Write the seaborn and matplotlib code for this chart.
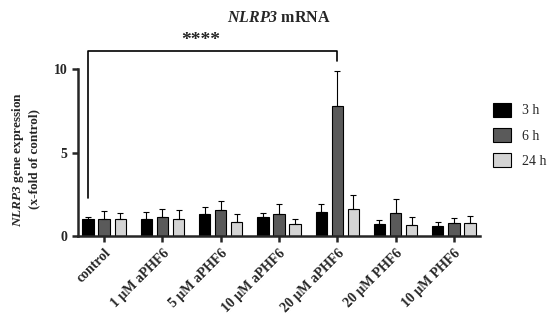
import numpy as np
import pandas as pd
import matplotlib
matplotlib.use("Agg")
import matplotlib.pyplot as plt
import seaborn as sns

groups = ["control", "1 μM aPHF6", "5 μM aPHF6", "10 μM aPHF6",
          "20 μM aPHF6", "20 μM PHF6", "10 μM PHF6"]
times = ["3 h", "6 h", "24 h"]
mean_3h = [1.0, 1.0, 1.34, 1.16, 1.46, 0.70, 0.60]
mean_6h = [1.0, 1.12, 1.56, 1.30, 7.8, 1.36, 0.76]
mean_24h = [1.0, 1.04, 0.86, 0.70, 1.60, 0.64, 0.80]
sd_3h = [0.12, 0.42, 0.38, 0.22, 0.44, 0.28, 0.26]
sd_6h = [0.52, 0.51, 0.54, 0.62, 2.1, 0.84, 0.34]
sd_24h = [0.40, 0.50, 0.44, 0.32, 0.86, 0.50, 0.40]

df = pd.DataFrame({
    "group": groups * 3,
    "time": ["3 h"] * 7 + ["6 h"] * 7 + ["24 h"] * 7,
    "value": mean_3h + mean_6h + mean_24h,
    "sd": sd_3h + sd_6h + sd_24h,
})

sns.set_style("ticks")
plt.rcParams["font.family"] = ["Liberation Serif", "DejaVu Serif"]
plt.rcParams["mathtext.fontset"] = "custom"
plt.rcParams["mathtext.it"] = "Liberation Serif:italic"
plt.rcParams["mathtext.bf"] = "Liberation Serif:bold"
plt.rcParams["mathtext.bfit"] = "Liberation Serif:bold:italic"

fig = plt.figure(figsize=(5.5, 3.23), dpi=100)
ax = fig.add_axes([0.142, 0.269, 0.731, 0.595])

palette = {"3 h": "#000000", "6 h": "#5a5a5a", "24 h": "#d4d4d4"}
sns.barplot(data=df, x="group", y="value", hue="time", order=groups,
            hue_order=times, palette=palette, errorbar=None,
            width=0.83, gap=0.3, edgecolor="black", linewidth=0.8, ax=ax)

# error bars, upward only
for cont, t in zip(ax.containers, times):
    sub = df[df["time"] == t].set_index("group").loc[groups]
    xs = [p.get_x() + p.get_width() / 2 for p in cont.patches]
    ys = [p.get_height() for p in cont.patches]
    err = sub["sd"].values
    ax.errorbar(xs, ys, yerr=[np.zeros(len(err)), err], fmt="none",
                ecolor="black", elinewidth=0.8, capsize=2.5, capthick=0.8)

# significance bracket control 3h vs 20 uM aPHF6 6h
x_l = ax.containers[0].patches[0]
x_r = ax.containers[1].patches[4]
xl = x_l.get_x() + x_l.get_width() / 2
xr = x_r.get_x() + x_r.get_width() / 2
ax.plot([xl, xl, xr, xr], [2.3, 11.1, 11.1, 10.45], color="black", lw=1.2,
        clip_on=False)
ax.text((xl + xr) / 2 - 0.2, 11.2, "****", ha="center", va="bottom",
        fontsize=14, fontweight="bold")

ax.set_xlim(-0.446, 6.45)
ax.set_ylim(0, 11.5)
ax.set_yticks([0, 5, 10])
ax.spines["left"].set_bounds(0, 10)
ax.spines["top"].set_visible(False)
ax.spines["right"].set_visible(False)
for s in ["left", "bottom"]:
    ax.spines[s].set_linewidth(1.8)
ax.tick_params(axis="both", width=1.8, length=4, labelsize=10)
for lab in ax.get_yticklabels():
    lab.set_fontweight("bold")
ax.set_xticks(range(len(groups)))
ax.set_xticklabels(groups, rotation=45, ha="right", rotation_mode="anchor",
                   fontweight="bold", fontsize=10)
ax.set_xlabel("")
ax.set_ylabel(r"$\mathbfit{NLRP3}$ gene expression" + "\n(x-fold of control)",
              fontsize=9.5, fontweight="bold")
ax.yaxis.set_label_coords(-0.095, 0.40)
ax.set_title(r"$\mathbfit{NLRP3}$ mRNA", fontsize=11.5, fontweight="bold",
             pad=16)

leg = ax.legend(title=None, frameon=False, loc="upper left",
                bbox_to_anchor=(1.0, 0.76), fontsize=10, handlelength=1.3,
                handleheight=1.2, labelspacing=0.75)

fig.savefig("out.png", dpi=100)
